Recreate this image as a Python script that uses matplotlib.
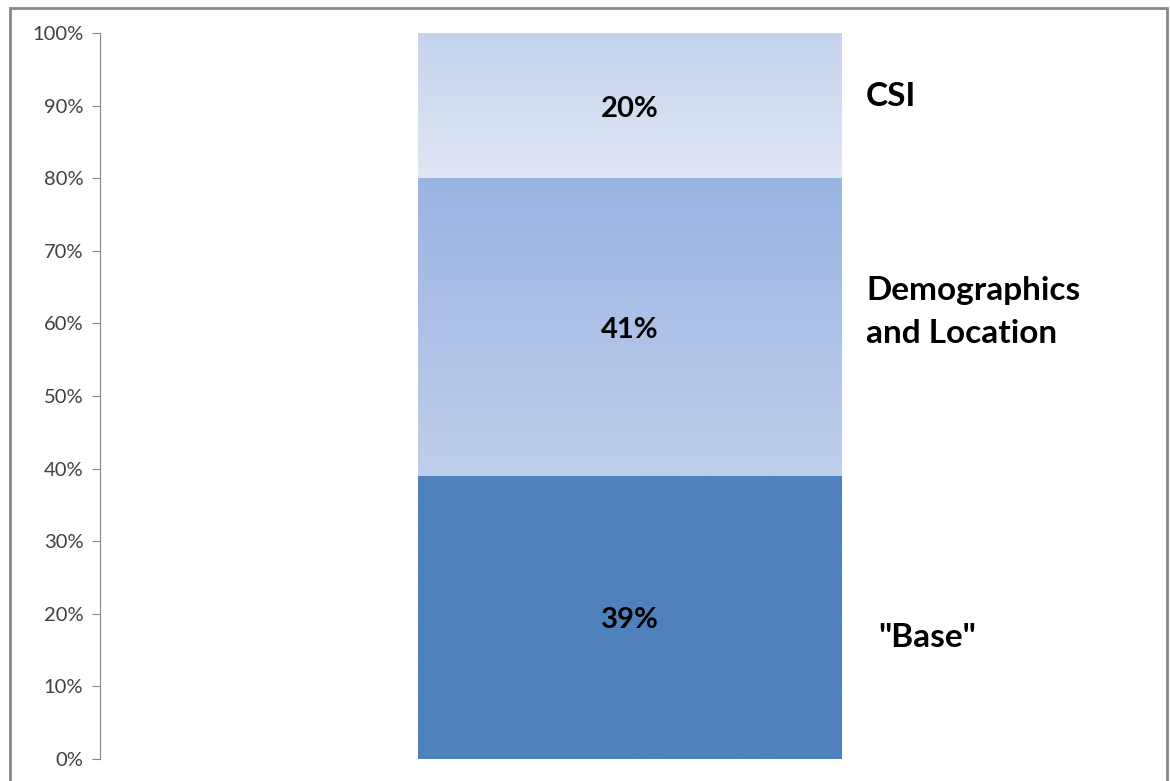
import numpy as np
import matplotlib.pyplot as plt
from matplotlib.colors import LinearSegmentedColormap
from matplotlib.patches import Rectangle

# segments, bottom to top
segments = ['"Base"', 'Demographics\nand Location', 'CSI']
shares = [39, 41, 20]
# (top colour, bottom colour) for the gradient fill of each segment
fills = [('#4f81bd', '#4f81bd'), ('#9ab4e2', '#c0cfec'), ('#c5d3ee', '#e0e7f5')]
yticks = list(range(0, 101, 10))

plt.rcParams['font.family'] = ['Lato', 'DejaVu Sans']

fig = plt.figure(figsize=(11.7, 7.81), dpi=100)
ax = fig.add_axes([100 / 1170, 22 / 781, 1060 / 1170, 726 / 781])

# grey frame around the chart
fig.patches.append(Rectangle((10 / 1170, -0.05), 1157 / 1170, 1.05 - 8 / 781,
                             transform=fig.transFigure, fill=False,
                             edgecolor='#888888', linewidth=2))

bars = ax.bar([0] * len(shares), shares, width=1.0,
              bottom=np.cumsum([0] + shares[:-1]), color='none', edgecolor='none')

for bar, (top, bot) in zip(bars, fills):
    cmap = LinearSegmentedColormap.from_list('g', [bot, top])
    x0, y0 = bar.get_x(), bar.get_y()
    grad = np.linspace(0, 1, 256).reshape(-1, 1)
    im = ax.imshow(grad, cmap=cmap, aspect='auto', origin='lower',
                   extent=[x0, x0 + bar.get_width(), y0, y0 + bar.get_height()],
                   zorder=2)
    im.set_clip_path(bar)
    ax.text(0, y0 + bar.get_height() / 2 - 0.4, f'{bar.get_height():.0f}%',
            ha='center', va='center', fontsize=21, fontweight='bold',
            color='black', zorder=3)

# side labels
label_pos = [(0.585, 16.7), (0.557, 61.6), (0.557, 91.2)]
for name, (lx, ly) in zip(segments, label_pos):
    ax.text(lx, ly, name, ha='left', va='center', fontsize=24,
            fontweight='bold', color='black', linespacing=1.6)

ax.set_xlim(-1.25, 1.25)
ax.set_ylim(0, 100)
ax.set_yticks(yticks)
ax.set_yticklabels([f'{t}%' for t in yticks], fontsize=14.5, color='#404040')
ax.set_xticks([])
for side in ['top', 'right', 'bottom']:
    ax.spines[side].set_visible(False)
ax.spines['left'].set_color('#868686')
ax.tick_params(axis='y', length=6, color='#868686', pad=6)

fig.savefig('out.png', dpi=100)
